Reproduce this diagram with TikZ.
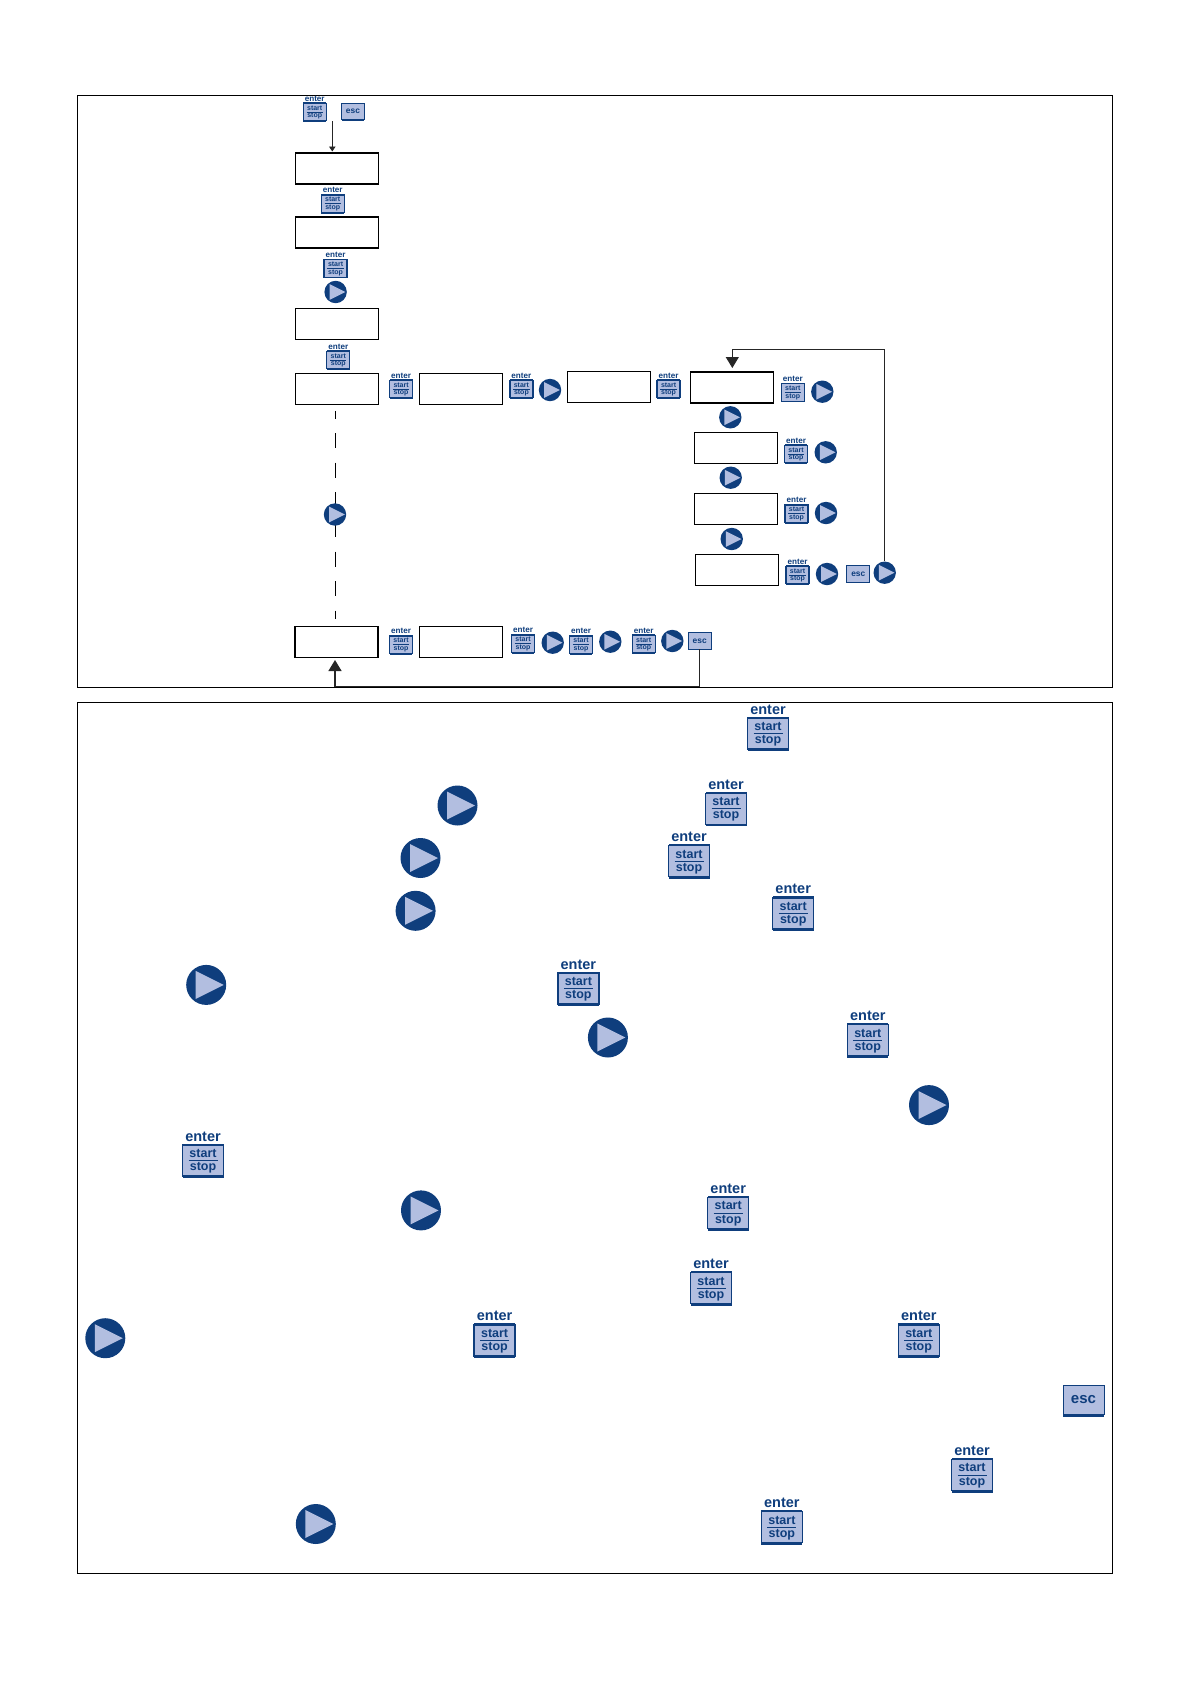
\documentclass[tikz,border=0pt]{standalone}
\usepackage{fontspec}
\setmainfont{Liberation Sans}
\usetikzlibrary{arrows.meta, positioning}
\definecolor{keynavy}{RGB}{15, 62, 125}
\definecolor{keylight}{RGB}{178, 190, 224}

\begin{document}
\begin{tikzpicture}[
    x=1pt, y=-1pt,
    display/.style={draw=black, fill=white, line width=#1, minimum width=83pt, minimum height=31pt, inner sep=0pt},
    display/.default=0.8pt,
    smallkey/.style={scale=0.56, transform shape},
    link/.style={draw=black!85, line width=0.9pt},
    enterkey/.pic={
        \node[draw=keynavy, fill=keylight, line width=1.3pt, minimum width=41pt, minimum height=31pt, inner sep=0pt] (-face) at (0,0) {};
        \fill[keynavy] (-20.5,15.5) rectangle (20.5,17.5);
        \fill[keynavy] (-20.5,-17) rectangle (20.5,-15.5);
        \draw[keynavy, line width=1pt] (-14.5,0) -- (14.5,0);
        \node[font=\bfseries\fontsize{12.5}{12.5}\selectfont, text=keynavy, inner sep=0pt, anchor=base] (-start) at (0,-3.2) {start};
        \node[font=\bfseries\fontsize{12.5}{12.5}\selectfont, text=keynavy, inner sep=0pt, anchor=base] (-stop) at (0,10.2) {stop};
        \node[font=\bfseries\fontsize{14.5}{14.5}\selectfont, text=keynavy, inner sep=0pt, anchor=base] (-enter) at (0,-19.5) {enter};
    },
    esckey/.pic={
        \node[draw=keynavy, fill=keylight, line width=1pt, minimum width=41pt, minimum height=29pt, inner sep=0pt] (-face) at (0,0) {};
        \fill[keynavy] (-20.5,14.5) rectangle (20.5,16.5);
        \node[font=\bfseries\fontsize{15}{15}\selectfont, text=keynavy, inner sep=0pt] (-esc) at (0,0) {esc};
    },
    playkey/.pic={
        \node[circle, fill=keynavy, minimum size=40pt, inner sep=0pt] (-disc) at (0,0) {};
        \fill[keylight] (-10.5,-14) -- (17.5,0) -- (-10.5,14) -- cycle;
    }
]
    \useasboundingbox (0,0) rectangle (1190,1684);
    \node[draw=black, line width=0.8pt, minimum width=1035.5pt, minimum height=592pt, inner sep=0pt] (upperframe) at (595,391.3) {};
    \node[draw=black, line width=0.8pt, minimum width=1035.5pt, minimum height=871pt, inner sep=0pt] (lowerframe) at (595,1138) {};

    % displays of the menu
    \node[display=1.6pt] (dispA) at (337,168.5) {};
    \node[display=1.6pt] (dispB) at (337,232.5) {};
    \node[display] (dispC) at (337,323.5) {};
    \node[display=1.6pt] (dispD) at (337,389) {};
    \node[display] (dispE) at (461,389) {};
    \node[display] (dispF) at (609,387) {};
    \node[display=1.6pt] (dispG) at (732,387.3) {};
    \node[display] (dispH) at (735.5,447.8) {};
    \node[display=1.2pt] (dispI) at (735.7,508.8) {};
    \node[display] (dispJ) at (736.7,570) {};
    \node[display=1.6pt] (dispK) at (336.7,641.8) {};
    \node[display] (dispL) at (461,641.8) {};

    % keys of the upper frame
    \pic[smallkey] (keyA) at (314.7,112) {enterkey};
    \pic[smallkey] (escA) at (353,111.7) {esckey};
    \pic[smallkey] (keyB) at (332.7,203.7) {enterkey};
    \pic[smallkey] (keyC) at (335.6,268.5) {enterkey};
    \pic[smallkey] (playA) at (335.6,292) {playkey};
    \pic[smallkey] (keyD) at (338.3,360) {enterkey};
    \pic[smallkey] (keyE) at (401.1,389) {enterkey};
    \pic[smallkey] (keyF) at (521.4,389) {enterkey};
    \pic[smallkey] (playB) at (550,390) {playkey};
    \pic[smallkey] (keyG) at (668.6,389) {enterkey};
    \pic[smallkey] (keyH) at (792.8,392.5) {enterkey};
    \pic[smallkey] (playC) at (822.3,391.7) {playkey};
    \pic[smallkey] (playD) at (730.3,417.3) {playkey};
    \pic[smallkey] (keyI) at (796,454) {enterkey};
    \pic[smallkey] (playE) at (825.7,452.3) {playkey};
    \pic[smallkey] (playF) at (730.7,477.7) {playkey};
    \pic[smallkey] (keyJ) at (796.5,513.7) {enterkey};
    \pic[smallkey] (playG) at (826,513) {playkey};
    \pic[smallkey] (playH) at (731.7,539) {playkey};
    \pic[smallkey] (keyK) at (797.5,575) {enterkey};
    \pic[smallkey] (playI) at (827,574) {playkey};
    \pic[smallkey] (escB) at (858.3,574) {esckey};
    \pic[smallkey] (playJ) at (884.7,572.7) {playkey};
    \pic[smallkey] (keyL) at (401,644.7) {enterkey};
    \pic[smallkey] (keyM) at (523,643.7) {enterkey};
    \pic[smallkey] (playL) at (552.7,642.7) {playkey};
    \pic[smallkey] (keyN) at (581,644.7) {enterkey};
    \pic[smallkey] (playM) at (610.3,641.7) {playkey};
    \pic[smallkey] (keyO) at (643.7,644) {enterkey};
    \pic[smallkey] (playN) at (672.3,641) {playkey};
    \pic[smallkey] (escC) at (699.7,641) {esckey};

    % connectors
    \draw[link, -{Triangle[length=5pt, width=6.5pt]}] (keyA-face.south -| dispA.north) ++(-4.7,0) -- (332.3,151.5);
    \draw[black, line width=1pt, dash pattern=on 15pt off 14.6pt, dash phase=7.3pt] (dispD.south) ++(-1.7,5.5) -- (335.3,619);
    \draw[link, -{Triangle[length=11pt, width=13pt]}] (playJ-disc.north) |- (732.3,349.3) -- (732.3,368);
    \draw[link, line width=1.3pt, -{Triangle[length=11pt, width=13pt]}] (escC-face.south) |- (335,686.3) -- (335,660);
    \pic[smallkey] (playK) at (335,514.5) {playkey};

    % keys of the lower frame
    \pic (keyP) at (768,733.5) {enterkey};
    \pic (keyQ) at (726,808.7) {enterkey};
    \pic (keyR) at (689,861.3) {enterkey};
    \pic (keyS) at (793.2,913.4) {enterkey};
    \pic (keyT) at (578.4,988.6) {enterkey};
    \pic (keyU) at (867.8,1040.2) {enterkey};
    \pic (keyV) at (203,1160.5) {enterkey};
    \pic (keyW) at (728.2,1213) {enterkey};
    \pic (keyX) at (711,1288.3) {enterkey};
    \pic (keyY) at (494.6,1340.4) {enterkey};
    \pic (keyZ) at (918.8,1340.4) {enterkey};
    \pic (keyAA) at (972,1475) {enterkey};
    \pic (keyAB) at (781.9,1527.2) {enterkey};
    \pic (escD) at (1083.5,1400) {esckey};
    \pic (playO) at (457.5,805.5) {playkey};
    \pic (playP) at (420.5,858) {playkey};
    \pic (playQ) at (415.6,910.8) {playkey};
    \pic (playR) at (206.2,984.9) {playkey};
    \pic (playS) at (607.9,1037.5) {playkey};
    \pic (playT) at (929,1105.1) {playkey};
    \pic (playU) at (421,1210.4) {playkey};
    \pic (playV) at (105.3,1338.2) {playkey};
    \pic (playW) at (315.8,1524) {playkey};
\end{tikzpicture}
\end{document}
